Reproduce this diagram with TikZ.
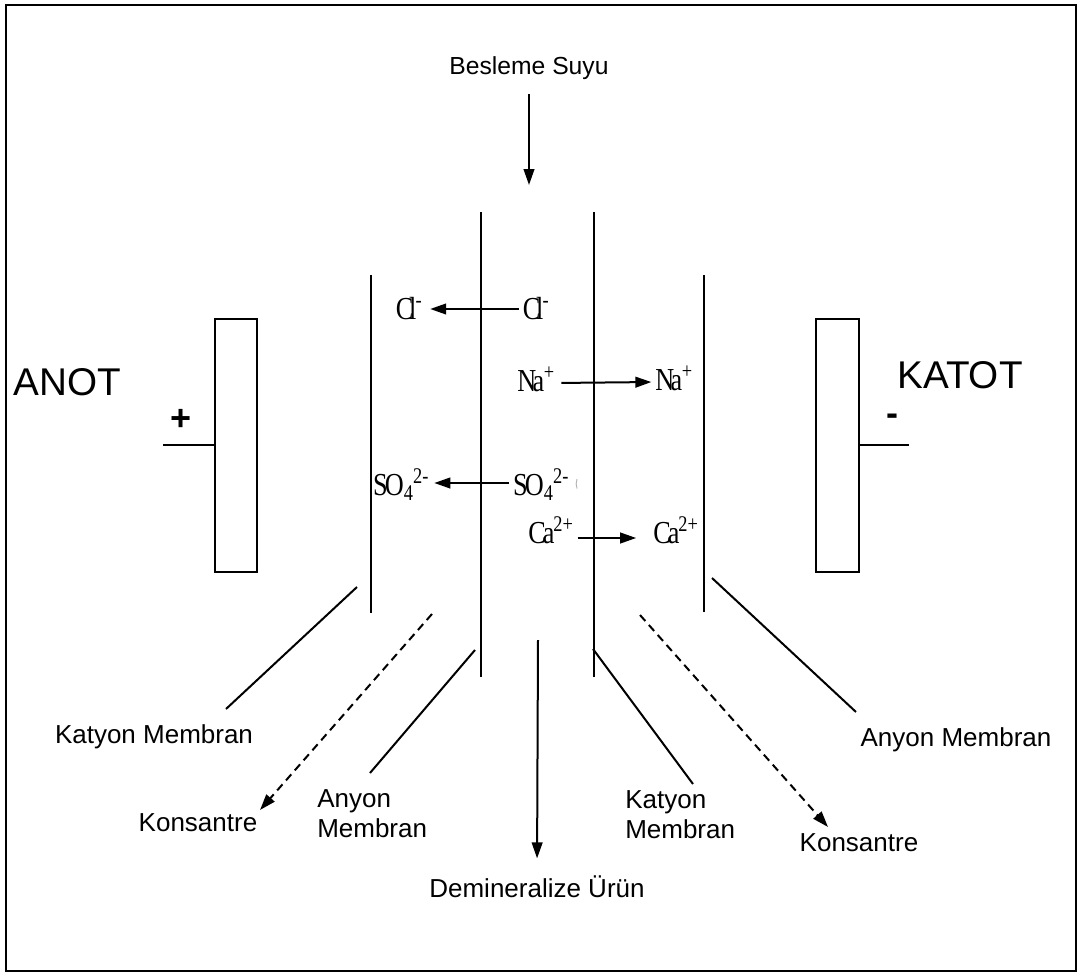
\documentclass[tikz,border=0pt]{standalone}
\usepackage{fontspec}
\setmainfont{Liberation Sans}
\newfontfamily\ionfont{Liberation Serif}
\usetikzlibrary{arrows.meta}

% ion symbols, set tight as in a condensed serif
\newcommand\clion{C\kern-0.16em l\kern-0.03em\textsuperscript{-}}
\newcommand\naion{N\kern-0.14em a\kern-0.02em\textsuperscript{+}}
\newcommand\caion{C\kern-0.12em a\kern-0.04em\textsuperscript{2+}}
\newcommand\soion{S\kern-0.1em O\textsubscript{4}\kern-0.02em\textsuperscript{2-}}

\tikzset{
  wire/.style={line width=1.5pt},
  membrane/.style={line width=1.6pt},
  tip/.style={-{Triangle[length=12pt,width=8pt]}},
  flow/.style={line width=1.5pt, tip},
  drift/.style={line width=1.5pt, dash pattern=on 6pt off 4pt, tip},
  ionmove/.style={line width=1.5pt, tip},
  lbl/.style={inner sep=0pt, font=\fontsize{19.5}{23}\selectfont},
  pole/.style={inner sep=0pt, font=\fontsize{29}{32}\selectfont},
  sign/.style={inner sep=0pt, font=\fontsize{27}{30}\selectfont\bfseries},
  ion/.style={inner sep=1pt, font=\ionfont\fontsize{24}{26}\selectfont, xscale=0.82, transform shape},
  electrode/.style={line width=1.5pt}
}

\begin{document}
\begin{tikzpicture}[x=0.75pt, y=-0.75pt]
\useasboundingbox (0,0) rectangle (1079,974);
\draw[line width=2pt] (6,5) rectangle (1076,971);

% feed water in, product out
\node[lbl, font=\fontsize{18.5}{21.5}\selectfont] (feed) at (529,68) {Besleme Suyu};
\coordinate (feedend) at (529,185);
\draw[flow, shorten <=11pt] (feed.south) -- (feedend);

\coordinate (prodstart) at (538,640);
\node[lbl] (prod) at (537,887) {Demineralize Ürün};
\draw[flow, shorten >=13pt] (prodstart) -- (prod.north);

% membranes
\coordinate (m1t) at (371,275); \coordinate (m1b) at (371,613);
\coordinate (m2t) at (481,212); \coordinate (m2b) at (481,677);
\coordinate (m3t) at (594,212); \coordinate (m3b) at (594,677);
\coordinate (m4t) at (704,275); \coordinate (m4b) at (704,612);
\draw[membrane] (m1t) -- (m1b);
\draw[membrane] (m2t) -- (m2b);
\draw[membrane] (m3t) -- (m3b);
\draw[membrane] (m4t) -- (m4b);

% electrodes
\node[draw, electrode, minimum width=42*0.75pt, minimum height=253*0.75pt, inner sep=0pt] (anode) at (235.5,445) {};
\node[draw, electrode, minimum width=43*0.75pt, minimum height=253*0.75pt, inner sep=0pt] (cathode) at (837.5,445) {};
\coordinate (anlead) at (163,445);
\coordinate (catlead) at (909,445);
\draw[electrode] (anode.west) -- (anlead);
\draw[electrode] (cathode.east) -- (catlead);
\node[pole] (anot) at (67,382) {ANOT};
\node[pole] (katot) at (960,375) {KATOT};
\node[sign] (plus) at (181,420) {+};
\node[sign] (minus) at (892,420) {-};

% ions crossing the membranes
\node[ion] (cl1) at (409,309) {\clion};
\node[ion] (cl2) at (536,309) {\clion};
\draw[ionmove, shorten <=2pt, shorten >=5pt] (cl2.west) -- (cl1.east);

\node[ion] (na1) at (536,379) {\naion};
\node[ion] (na2) at (674,378) {\naion};
\draw[ionmove, shorten <=4pt, shorten >=2pt] ([yshift=-3pt]na1.east) -- ([yshift=-3pt]na2.west);

\node[ion] (so1) at (401,485) {\soion};
\node[ion] (so2) at (541,485) {\soion};
\draw[ionmove, shorten <=2pt, shorten >=3pt] ([yshift=1.5pt]so2.west) -- ([yshift=1.5pt]so1.east);
\draw[line width=0.7pt, gray!60] (577,479) arc[start angle=200, end angle=160, radius=14];

\node[ion] (ca1) at (551,530) {\caion};
\node[ion] (ca2) at (676,530) {\caion};
\draw[ionmove, shorten <=2pt, shorten >=12pt] ([yshift=-6pt]ca1.east) -- ([yshift=-6pt]ca2.west);

% labels and leader lines
\node[lbl] (kml) at (154,737) {Katyon Membran};
\coordinate (kmlend) at (357,587);
\coordinate (kmlstart) at (226,709);
\draw[wire] (kmlstart) -- (kmlend);

\node[lbl] (konl) at (198,823) {Konsantre};
\coordinate (konlstart) at (432,614);
\coordinate (konltip) at (260,810);
\draw[drift] (konlstart) -- (konltip);

\node[lbl, align=left, anchor=north west] (aml) at (317,789) {Anyon\\Membran};
\coordinate (amlend) at (475,650);
\coordinate (amlstart) at (370,773);
\draw[wire] (amlstart) -- (amlend);

\node[lbl, align=left, anchor=north west] (kmr) at (625,790) {Katyon\\Membran};
\coordinate (kmrend) at (593,649);
\coordinate (kmrstart) at (693,784);
\draw[wire] (kmrstart) -- (kmrend);

\node[lbl] (konr) at (859,843) {Konsantre};
\coordinate (konrstart) at (640,615);
\coordinate (konrtip) at (828,827);
\draw[drift] (konrstart) -- (konrtip);

\node[lbl] (amr) at (956,740) {Anyon Membran};
\coordinate (amrend) at (712,578);
\coordinate (amrstart) at (856,712);
\draw[wire] (amrstart) -- (amrend);
\end{tikzpicture}
\end{document}
